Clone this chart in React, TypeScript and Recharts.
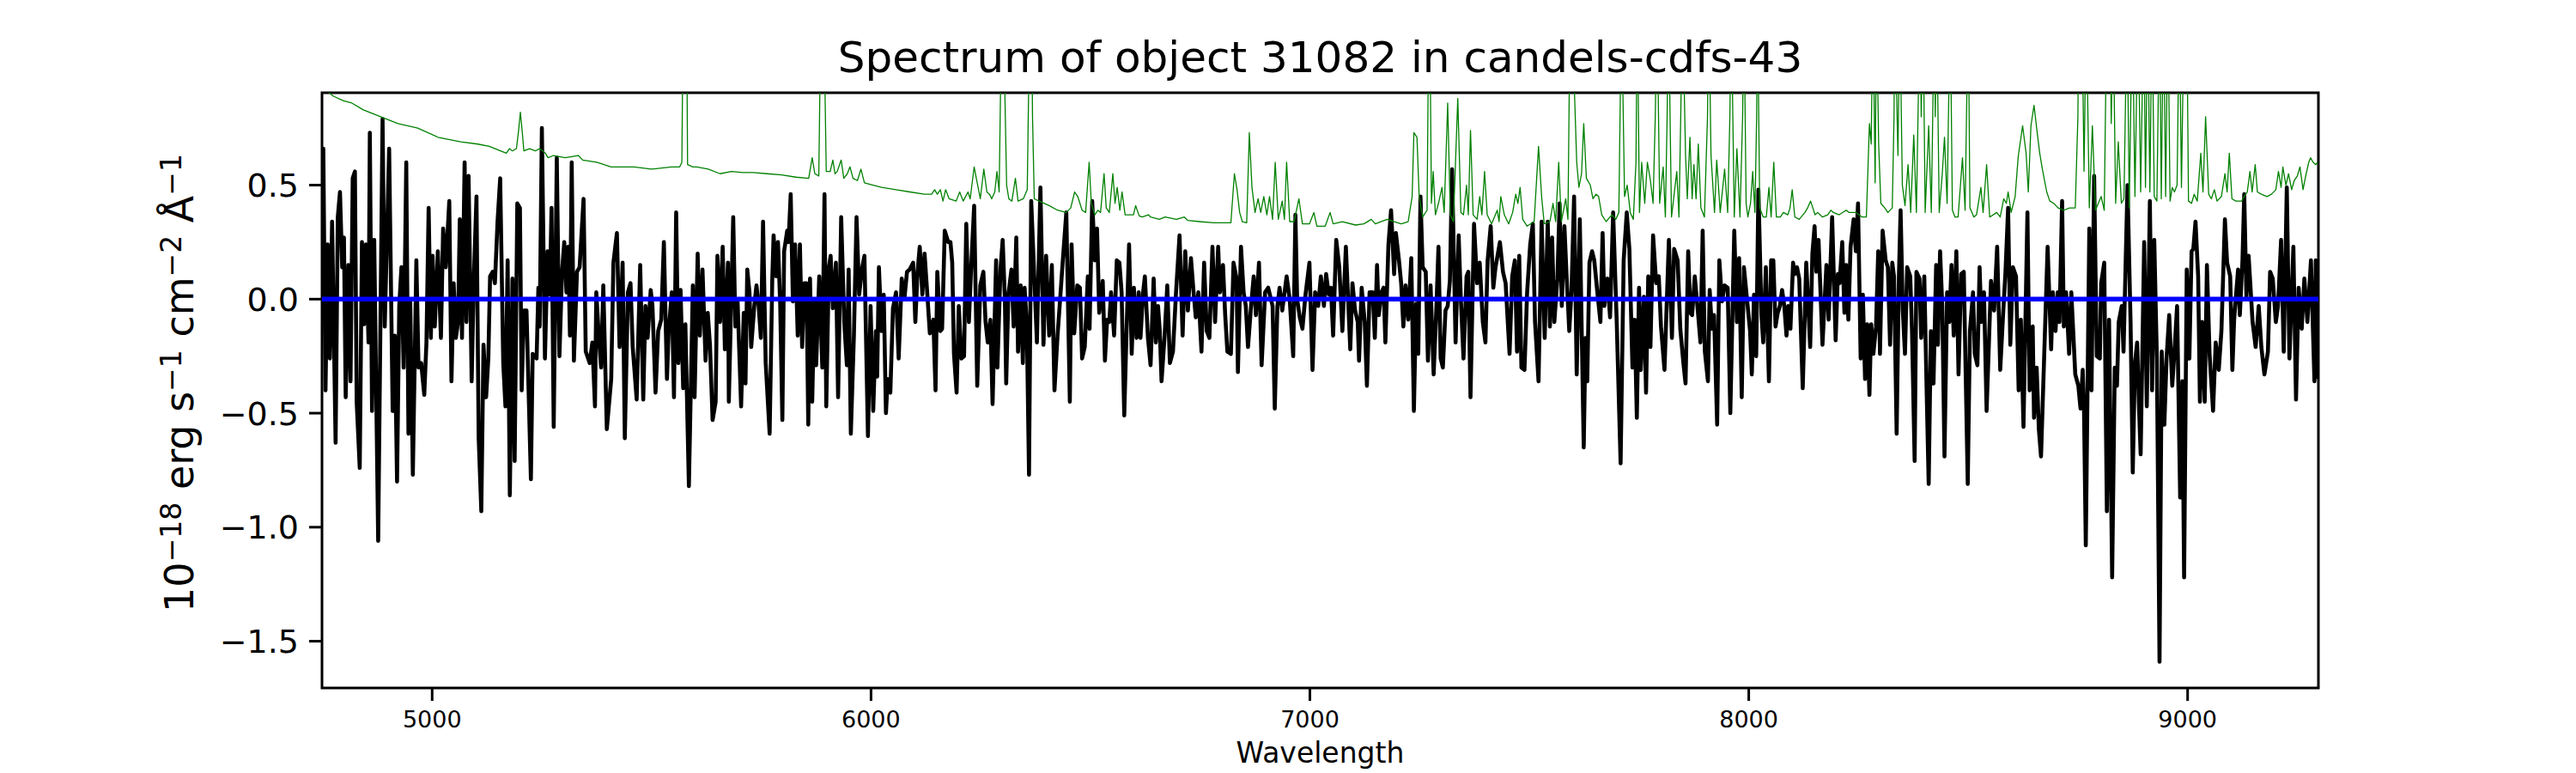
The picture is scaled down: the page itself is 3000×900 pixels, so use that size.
import React from 'react';
import { LineChart, Line, XAxis, YAxis, ReferenceArea } from 'recharts';

const WAVE_MIN = 4749;
const WAVE_MAX = 9298;
const FLUX_MIN = -1.705;
const FLUX_MAX = 0.905;
const X_TICKS = [5000, 6000, 7000, 8000, 9000];
const Y_TICKS = [-1.5, -1.0, -0.5, 0.0, 0.5];
const TITLE = 'Spectrum of object 31082 in candels-cdfs-43';
const X_LABEL = 'Wavelength';

// [wavelength, flux] of the object spectrum (black)
const OBJECT_FLUX: [number, number][] = [
  [4749, 0.24], [4752, 0.66], [4757, -0.40], [4762, 0.24], [4767, -0.26], [4772, 0.34], [4780, -0.63], [4785, 0.36],
  [4790, 0.47], [4795, 0.14], [4799, 0.27], [4803, -0.43], [4809, 0.15], [4814, -0.36], [4819, 0.53], [4824, 0.56],
  [4828, -0.45], [4835, -0.74], [4840, 0.25], [4845, -0.11], [4849, 0.24], [4855, -0.19], [4858, 0.73], [4863, -0.49],
  [4868, 0.26], [4877, -1.06], [4887, 0.79], [4892, -0.12], [4902, 0.66], [4910, -0.49], [4915, -0.16], [4920, -0.80],
  [4925, -0.03], [4930, 0.14], [4935, -0.30], [4941, 0.60], [4946, -0.59], [4950, 0.00], [4956, -0.77], [4964, 0.17],
  [4969, -0.30], [4975, -0.28], [4982, -0.42], [4987, -0.19], [4992, 0.40], [4997, -0.17], [5001, 0.19], [5006, -0.12],
  [5013, 0.21], [5020, -0.17], [5025, 0.31], [5031, 0.14], [5039, 0.43], [5044, -0.36], [5049, 0.07], [5054, -0.17],
  [5059, -0.10], [5063, 0.35], [5068, -0.17], [5074, 0.60], [5078, -0.10], [5083, 0.54], [5090, -0.36], [5095, 0.09],
  [5101, 0.45], [5106, -0.61], [5112, -0.93], [5117, -0.20], [5123, -0.43], [5128, -0.26], [5132, 0.10], [5138, 0.12],
  [5143, 0.07], [5149, 0.34], [5155, 0.53], [5162, -0.28], [5167, -0.47], [5172, 0.17], [5177, -0.86], [5183, 0.09],
  [5188, -0.71], [5194, 0.42], [5200, 0.40], [5204, -0.40], [5209, -0.05], [5215, -0.05], [5225, -0.79], [5229, -0.24],
  [5238, -0.26], [5242, 0.05], [5245, -0.12], [5250, 0.75], [5257, -0.26], [5263, 0.21], [5268, 0.02], [5272, 0.40],
  [5277, -0.56], [5284, 0.62], [5290, -0.25], [5296, 0.12], [5301, 0.25], [5306, 0.03], [5310, 0.23], [5314, -0.16],
  [5318, 0.60], [5323, -0.27], [5330, 0.12], [5336, 0.14], [5345, 0.44], [5350, -0.23], [5359, -0.28], [5365, -0.19],
  [5371, -0.47], [5374, 0.03], [5380, -0.17], [5385, -0.30], [5390, 0.06], [5398, -0.57], [5408, -0.35], [5413, 0.16],
  [5421, 0.29], [5427, -0.21], [5434, 0.16], [5439, -0.61], [5446, 0.03], [5452, 0.07], [5457, -0.21], [5466, -0.44],
  [5474, 0.15], [5481, -0.44], [5486, -0.03], [5491, -0.17], [5498, 0.04], [5502, -0.03], [5509, -0.41], [5515, -0.14],
  [5522, -0.09], [5528, 0.25], [5535, -0.35], [5539, -0.14], [5546, 0.03], [5551, -0.43], [5556, 0.38], [5561, -0.28],
  [5566, 0.04], [5572, -0.39], [5577, -0.11], [5585, -0.82], [5594, 0.06], [5598, -0.43], [5605, 0.20], [5610, -0.16],
  [5616, 0.13], [5623, -0.27], [5628, -0.06], [5633, -0.20], [5639, -0.53], [5646, -0.45], [5650, 0.19], [5656, -0.10],
  [5662, 0.23], [5667, -0.22], [5674, 0.16], [5676, -0.45], [5686, 0.36], [5691, -0.12], [5696, -0.01], [5704, -0.47],
  [5710, -0.06], [5714, -0.37], [5718, 0.13], [5723, 0.03], [5727, -0.21], [5734, -0.03], [5739, 0.06], [5744, -0.03],
  [5749, -0.17], [5754, 0.34], [5760, -0.28], [5769, -0.59], [5775, 0.09], [5778, 0.28], [5784, 0.10], [5788, 0.25],
  [5793, -0.02], [5798, -0.53], [5802, 0.21], [5809, 0.30], [5812, 0.25], [5817, 0.46], [5822, -0.01], [5827, 0.24],
  [5833, -0.16], [5838, 0.24], [5843, -0.21], [5848, 0.07], [5853, 0.07], [5857, -0.55], [5861, 0.09], [5866, -0.45],
  [5871, 0.00], [5875, -0.29], [5882, 0.10], [5889, -0.30], [5894, 0.46], [5898, -0.47], [5904, 0.14], [5908, 0.19],
  [5913, -0.04], [5920, 0.16], [5925, -0.43], [5932, 0.36], [5939, -0.10], [5945, -0.29], [5949, 0.13], [5954, -0.59],
  [5961, -0.16], [5967, 0.36], [5973, 0.02], [5980, 0.14], [5985, 0.19], [5993, -0.60], [5999, -0.03], [6005, -0.49],
  [6011, -0.14], [6014, -0.34], [6018, 0.14], [6024, -0.14], [6029, 0.02], [6034, -0.50], [6038, -0.35], [6044, -0.41],
  [6050, -0.04], [6057, 0.03], [6063, -0.26], [6070, 0.09], [6076, 0.00], [6082, 0.12], [6088, 0.13], [6096, 0.16],
  [6101, -0.10], [6106, 0.12], [6111, 0.23], [6117, 0.02], [6122, 0.20], [6128, 0.03], [6134, -0.15], [6142, -0.09],
  [6147, -0.40], [6151, 0.12], [6158, -0.14], [6162, -0.13], [6168, 0.30], [6176, 0.25], [6181, 0.25], [6185, 0.16],
  [6189, -0.24], [6195, -0.41], [6200, -0.03], [6206, -0.26], [6212, -0.25], [6217, 0.33], [6223, -0.10], [6228, 0.13],
  [6235, 0.41], [6242, -0.38], [6249, 0.06], [6256, 0.12], [6261, -0.10], [6266, -0.19], [6272, -0.09], [6277, -0.46],
  [6285, 0.17], [6288, -0.30], [6295, 0.13], [6300, 0.26], [6305, 0.00], [6308, -0.37], [6313, 0.02], [6320, 0.13],
  [6325, -0.12], [6331, 0.27], [6335, -0.23], [6341, 0.06], [6346, -0.28], [6350, 0.05], [6355, -0.11], [6360, -0.77],
  [6365, 0.43], [6372, 0.10], [6378, -0.19], [6386, 0.49], [6393, -0.20], [6399, 0.19], [6406, -0.16], [6412, 0.15],
  [6418, -0.40], [6425, -0.16], [6432, 0.03], [6437, 0.17], [6445, 0.38], [6453, -0.45], [6457, 0.24], [6463, -0.15],
  [6470, 0.06], [6476, 0.05], [6481, -0.26], [6487, -0.21], [6494, 0.10], [6498, -0.13], [6504, 0.43], [6510, 0.17],
  [6515, 0.31], [6520, -0.06], [6528, 0.08], [6533, -0.27], [6538, -0.09], [6543, -0.10], [6547, 0.03], [6554, -0.16],
  [6560, 0.17], [6566, 0.16], [6571, 0.03], [6577, -0.51], [6583, -0.09], [6588, 0.24], [6594, -0.24], [6599, 0.05],
  [6605, -0.17], [6610, 0.03], [6614, -0.17], [6620, 0.03], [6624, 0.10], [6631, -0.17], [6637, -0.29], [6644, 0.09],
  [6649, -0.19], [6654, -0.03], [6658, -0.14], [6662, -0.36], [6669, -0.16], [6675, 0.06], [6681, -0.28], [6688, -0.23],
  [6695, 0.03], [6703, 0.28], [6710, -0.16], [6716, 0.21], [6722, -0.05], [6729, 0.18], [6735, 0.03], [6740, -0.08],
  [6746, 0.03], [6753, -0.23], [6759, 0.16], [6765, -0.14], [6771, -0.17], [6778, 0.23], [6784, -0.10], [6791, 0.23],
  [6795, 0.03], [6802, 0.15], [6807, -0.07], [6812, -0.23], [6820, -0.24], [6826, 0.16], [6833, 0.09], [6836, -0.32],
  [6843, 0.23], [6849, 0.03], [6854, -0.03], [6859, -0.21], [6866, -0.03], [6872, 0.10], [6877, -0.07], [6884, 0.16],
  [6890, -0.29], [6898, 0.03], [6905, 0.05], [6915, -0.03], [6920, -0.48], [6926, -0.03], [6931, 0.05], [6937, -0.05],
  [6947, 0.10], [6954, 0.00], [6962, -0.25], [6967, 0.37], [6971, 0.00], [6977, -0.08], [6983, -0.13], [6990, 0.02],
  [6999, 0.16], [7006, -0.31], [7012, 0.03], [7019, -0.03], [7025, 0.10], [7032, -0.03], [7037, 0.11], [7043, 0.02],
  [7048, 0.05], [7053, -0.16], [7060, 0.26], [7067, 0.14], [7074, -0.14], [7082, 0.23], [7092, -0.22], [7097, 0.07],
  [7103, -0.05], [7109, -0.10], [7112, -0.27], [7118, 0.05], [7125, -0.10], [7130, -0.38], [7136, 0.03], [7143, 0.03],
  [7148, -0.17], [7153, 0.15], [7157, -0.07], [7163, 0.03], [7168, 0.05], [7172, -0.19], [7179, 0.24], [7185, 0.39],
  [7192, 0.11], [7196, 0.29], [7203, 0.17], [7208, 0.07], [7213, -0.12], [7218, 0.06], [7224, -0.09], [7231, 0.18],
  [7237, -0.49], [7242, -0.02], [7247, -0.24], [7252, 0.45], [7257, 0.14], [7264, 0.12], [7269, -0.27], [7275, 0.06],
  [7282, -0.33], [7288, -0.05], [7293, 0.23], [7298, -0.26], [7303, -0.30], [7309, -0.05], [7314, -0.03], [7319, 0.08],
  [7324, 0.57], [7332, -0.19], [7339, 0.28], [7344, 0.00], [7350, -0.26], [7357, 0.10], [7361, 0.12], [7366, -0.43],
  [7374, 0.33], [7381, 0.07], [7387, 0.16], [7394, -0.10], [7400, -0.19], [7405, 0.17], [7412, 0.32], [7418, 0.05],
  [7423, 0.14], [7433, 0.25], [7440, 0.12], [7446, 0.07], [7455, -0.24], [7461, 0.10], [7467, 0.17], [7472, -0.23],
  [7477, 0.19], [7482, -0.30], [7489, -0.31], [7495, 0.03], [7502, 0.24], [7508, 0.33], [7513, -0.10], [7521, -0.36],
  [7528, 0.34], [7535, -0.17], [7542, 0.34], [7547, -0.12], [7552, 0.27], [7557, -0.10], [7564, 0.09], [7569, 0.42],
  [7574, -0.03], [7580, 0.32], [7585, 0.10], [7591, -0.14], [7596, 0.03], [7602, 0.45], [7608, -0.33], [7615, 0.35],
  [7624, -0.65], [7628, -0.17], [7632, -0.36], [7637, 0.16], [7643, 0.21], [7648, 0.17], [7655, 0.03], [7662, -0.10],
  [7667, 0.29], [7671, -0.03], [7678, 0.09], [7684, -0.08], [7691, 0.38], [7699, -0.09], [7708, -0.72], [7715, 0.17],
  [7722, 0.38], [7728, 0.22], [7735, -0.30], [7740, -0.09], [7745, -0.52], [7750, 0.05], [7754, -0.31], [7761, 0.01],
  [7766, -0.41], [7771, 0.10], [7776, -0.21], [7782, 0.28], [7789, 0.07], [7795, 0.10], [7800, -0.12], [7808, -0.31],
  [7818, 0.26], [7825, -0.17], [7830, 0.22], [7838, 0.17], [7844, -0.13], [7851, -0.28], [7856, -0.37], [7862, 0.21],
  [7867, -0.06], [7871, -0.07], [7877, 0.10], [7883, -0.03], [7890, -0.19], [7895, 0.30], [7900, -0.23], [7907, -0.36],
  [7911, 0.04], [7916, -0.13], [7921, -0.07], [7928, -0.55], [7933, 0.17], [7939, -0.01], [7945, 0.06], [7952, 0.05],
  [7958, -0.50], [7967, 0.30], [7973, -0.10], [7978, 0.18], [7984, -0.43], [7989, 0.14], [8003, -0.14], [8007, -0.33],
  [8012, 0.02], [8017, -0.25], [8022, 0.48], [8029, -0.07], [8033, -0.19], [8039, 0.14], [8046, -0.36], [8051, 0.17],
  [8056, 0.17], [8061, -0.12], [8066, -0.06], [8071, -0.03], [8076, 0.04], [8081, -0.03], [8086, -0.16], [8090, -0.03],
  [8095, -0.13], [8101, 0.16], [8105, 0.11], [8110, 0.14], [8115, 0.09], [8123, -0.39], [8131, 0.16], [8140, -0.21],
  [8145, 0.20], [8150, 0.32], [8154, 0.12], [8159, 0.26], [8168, -0.20], [8177, 0.15], [8182, -0.09], [8190, 0.36],
  [8198, -0.18], [8203, 0.11], [8207, 0.07], [8213, 0.25], [8218, -0.06], [8222, 0.15], [8227, -0.09], [8232, 0.23],
  [8239, 0.35], [8244, 0.21], [8249, 0.42], [8255, -0.26], [8260, 0.02], [8265, -0.35], [8270, -0.11], [8275, -0.42],
  [8279, -0.11], [8284, -0.24], [8290, -0.12], [8295, 0.21], [8299, -0.24], [8305, 0.30], [8312, 0.17], [8317, 0.14],
  [8322, -0.20], [8327, 0.16], [8331, 0.10], [8337, -0.59], [8342, 0.09], [8346, 0.39], [8351, -0.05], [8356, -0.24],
  [8361, 0.14], [8368, 0.10], [8372, -0.14], [8378, -0.71], [8382, 0.12], [8389, 0.09], [8393, -0.17], [8400, 0.10],
  [8405, -0.37], [8410, -0.81], [8415, -0.14], [8421, -0.37], [8427, 0.15], [8431, -0.20], [8436, 0.21], [8441, -0.03],
  [8446, -0.69], [8452, 0.03], [8457, -0.10], [8462, 0.15], [8467, -0.16], [8473, 0.21], [8478, -0.33], [8484, 0.11],
  [8490, 0.12], [8499, -0.81], [8504, -0.14], [8511, 0.03], [8515, -0.24], [8521, -0.29], [8526, 0.14], [8530, -0.10],
  [8536, 0.03], [8542, -0.49], [8552, 0.08], [8559, -0.05], [8566, 0.23], [8573, -0.31], [8580, -0.05], [8585, 0.12],
  [8591, 0.40], [8596, -0.20], [8602, 0.14], [8609, 0.10], [8615, -0.40], [8620, -0.09], [8626, -0.56], [8635, 0.38],
  [8640, -0.40], [8647, -0.12], [8650, -0.52], [8656, -0.30], [8661, -0.57], [8666, -0.69], [8673, -0.26], [8681, 0.23],
  [8689, -0.22], [8693, 0.03], [8699, -0.14], [8704, 0.03], [8708, -0.10], [8714, 0.43], [8718, -0.12], [8723, 0.03],
  [8730, -0.24], [8735, 0.03], [8744, -0.33], [8751, -0.38], [8756, -0.48], [8761, -0.31], [8764, -0.50], [8768, -1.08],
  [8776, 0.31], [8781, -0.40], [8787, 0.54], [8793, -0.25], [8800, -0.26], [8803, 0.07], [8810, 0.16], [8816, -0.93],
  [8821, -0.09], [8828, -1.22], [8834, -0.30], [8839, -0.38], [8843, -0.10], [8850, -0.03], [8854, -0.23], [8863, 0.50],
  [8870, -0.10], [8875, -0.76], [8880, -0.28], [8885, -0.19], [8889, -0.46], [8893, -0.68], [8901, 0.25], [8907, -0.47],
  [8914, 0.43], [8919, -0.40], [8924, 0.26], [8930, -0.26], [8936, -1.59], [8941, -0.23], [8947, -0.55], [8952, -0.26],
  [8958, -0.07], [8965, -0.38], [8970, -0.23], [8976, -0.03], [8983, -0.87], [8988, -0.36], [8992, -1.22], [8998, 0.13],
  [9004, -0.26], [9009, 0.21], [9013, 0.22], [9018, 0.34], [9024, 0.10], [9028, -0.45], [9033, -0.10], [9039, -0.45],
  [9044, 0.15], [9050, -0.24], [9058, -0.49], [9064, -0.19], [9071, -0.31], [9077, -0.14], [9085, 0.35], [9090, 0.16],
  [9097, 0.10], [9102, -0.31], [9106, -0.09], [9115, 0.13], [9119, -0.07], [9125, 0.17], [9129, 0.46], [9134, 0.01],
  [9139, 0.19], [9148, -0.10], [9155, -0.21], [9162, -0.03], [9168, -0.21], [9175, -0.33], [9183, -0.23], [9188, 0.12],
  [9194, 0.09], [9201, -0.10], [9206, -0.03], [9213, 0.26], [9219, -0.23], [9226, 0.49], [9232, -0.26], [9241, 0.23],
  [9247, -0.44], [9253, 0.05], [9260, -0.13], [9266, 0.09], [9273, -0.10], [9281, 0.17], [9289, -0.36], [9292, 0.17],
  [9296, -0.35],
];

// [wavelength, error] of the noise / sky spectrum (green)
const SKY_ERROR: [number, number][] = [
  [4749, 0.93], [4775, 0.89], [4798, 0.87], [4817, 0.86], [4843, 0.83], [4869, 0.81], [4896, 0.79], [4922, 0.77],
  [4967, 0.75], [5013, 0.71], [5065, 0.69], [5104, 0.68], [5130, 0.67], [5169, 0.64], [5176, 0.66], [5183, 0.65],
  [5192, 0.66], [5197, 0.74], [5201, 0.82], [5205, 0.74], [5209, 0.65], [5222, 0.66], [5235, 0.65], [5245, 0.66],
  [5258, 0.64], [5264, 0.62], [5277, 0.63], [5303, 0.62], [5333, 0.63], [5343, 0.61], [5375, 0.60], [5408, 0.58],
  [5460, 0.58], [5499, 0.57], [5545, 0.58], [5564, 0.58], [5569, 0.60], [5573, 1.5], [5576, 1.5], [5579, 1.5],
  [5582, 0.59], [5594, 0.58], [5603, 0.58], [5629, 0.57], [5656, 0.55], [5682, 0.56], [5708, 0.555], [5731, 0.555],
  [5763, 0.55], [5796, 0.545], [5829, 0.535], [5858, 0.53], [5866, 0.62], [5872, 0.55], [5881, 0.54], [5886, 1.3],
  [5892, 1.3], [5898, 0.56], [5907, 0.56], [5913, 0.61], [5918, 0.55], [5923, 0.56], [5932, 0.61], [5938, 0.53],
  [5946, 0.55], [5952, 0.58], [5959, 0.53], [5969, 0.52], [5977, 0.57], [5985, 0.51], [6005, 0.50], [6024, 0.49],
  [6057, 0.48], [6089, 0.47], [6122, 0.46], [6138, 0.46], [6145, 0.48], [6151, 0.46], [6158, 0.48], [6164, 0.43],
  [6170, 0.48], [6178, 0.44], [6194, 0.43], [6202, 0.47], [6210, 0.43], [6221, 0.47], [6226, 0.44], [6235, 0.58],
  [6243, 0.50], [6249, 0.44], [6257, 0.57], [6264, 0.47], [6270, 0.46], [6275, 0.44], [6282, 0.47], [6287, 0.56],
  [6292, 0.47], [6295, 0.90], [6298, 1.6], [6301, 1.6], [6305, 0.90], [6309, 0.50], [6314, 0.44], [6321, 0.43],
  [6329, 0.53], [6335, 0.43], [6347, 0.44], [6356, 0.48], [6359, 0.90], [6361, 1.5], [6365, 1.5], [6368, 0.80],
  [6372, 0.44], [6383, 0.43], [6406, 0.41], [6425, 0.39], [6445, 0.38], [6455, 0.40], [6464, 0.47], [6471, 0.45],
  [6481, 0.39], [6489, 0.38], [6497, 0.60], [6502, 0.42], [6510, 0.37], [6517, 0.39], [6523, 0.38], [6531, 0.55],
  [6536, 0.40], [6543, 0.38], [6551, 0.55], [6556, 0.42], [6561, 0.49], [6567, 0.39], [6572, 0.47], [6579, 0.37],
  [6598, 0.37], [6603, 0.41], [6611, 0.365], [6618, 0.36], [6632, 0.37], [6637, 0.36], [6657, 0.35], [6670, 0.36],
  [6696, 0.35], [6714, 0.36], [6722, 0.345], [6748, 0.34], [6781, 0.335], [6820, 0.335], [6828, 0.55], [6834, 0.48],
  [6840, 0.38], [6846, 0.34], [6856, 0.335], [6862, 0.73], [6868, 0.49], [6875, 0.38], [6882, 0.44], [6888, 0.38],
  [6895, 0.45], [6902, 0.37], [6908, 0.45], [6915, 0.35], [6921, 0.60], [6928, 0.35], [6937, 0.43], [6942, 0.35],
  [6947, 0.60], [6954, 0.34], [6964, 0.34], [6975, 0.44], [6983, 0.33], [6999, 0.33], [7009, 0.38], [7016, 0.32],
  [7035, 0.32], [7046, 0.38], [7053, 0.33], [7074, 0.34], [7104, 0.325], [7123, 0.33], [7140, 0.35], [7149, 0.33],
  [7176, 0.35], [7192, 0.34], [7208, 0.33], [7224, 0.34], [7233, 0.45], [7237, 0.73], [7244, 0.71], [7249, 0.45],
  [7257, 0.36], [7267, 0.39], [7272, 1.5], [7277, 0.42], [7281, 0.56], [7286, 0.37], [7293, 0.42], [7301, 0.49],
  [7306, 0.38], [7314, 0.86], [7320, 0.37], [7327, 0.34], [7337, 0.88], [7344, 0.38], [7350, 0.37], [7357, 0.50],
  [7361, 0.37], [7366, 0.74], [7372, 0.37], [7381, 0.35], [7387, 0.45], [7392, 0.37], [7398, 0.56], [7404, 0.37],
  [7414, 0.33], [7427, 0.39], [7431, 0.34], [7435, 0.45], [7443, 0.37], [7453, 0.33], [7462, 0.38], [7469, 0.46],
  [7474, 0.42], [7479, 0.49], [7485, 0.35], [7495, 0.32], [7511, 0.34], [7521, 0.67], [7528, 0.45], [7534, 0.33],
  [7547, 0.34], [7554, 0.42], [7560, 0.34], [7567, 0.60], [7573, 0.34], [7583, 0.44], [7588, 0.35], [7593, 1.3],
  [7600, 1.3], [7603, 0.90], [7608, 0.60], [7613, 0.49], [7619, 0.55], [7624, 0.77], [7630, 0.53], [7639, 0.50],
  [7645, 0.44], [7652, 0.46], [7658, 0.45], [7665, 0.37], [7675, 0.34], [7688, 0.37], [7697, 0.35], [7704, 0.38],
  [7710, 1.3], [7717, 0.45], [7723, 0.50], [7730, 0.38], [7737, 0.35], [7743, 0.60], [7746, 1.3], [7751, 0.38],
  [7756, 0.60], [7763, 0.42], [7769, 0.60], [7776, 0.52], [7782, 0.42], [7787, 0.80], [7791, 1.3], [7797, 0.42],
  [7805, 0.58], [7810, 0.36], [7814, 0.80], [7817, 1.3], [7824, 0.36], [7836, 0.56], [7841, 0.36], [7845, 0.80],
  [7849, 1.3], [7856, 0.63], [7860, 0.44], [7866, 0.71], [7871, 0.44], [7875, 0.59], [7880, 0.44], [7885, 0.68],
  [7891, 0.40], [7899, 0.36], [7906, 0.80], [7909, 1.3], [7914, 0.63], [7922, 0.38], [7927, 0.61], [7935, 0.38],
  [7945, 0.57], [7952, 0.38], [7957, 0.80], [7960, 1.3], [7967, 0.36], [7973, 0.66], [7980, 0.36], [7986, 0.80],
  [7989, 1.3], [7994, 0.42], [7998, 0.36], [8004, 0.42], [8009, 0.56], [8014, 0.38], [8018, 0.80], [8020, 1.3],
  [8025, 0.40], [8033, 0.36], [8040, 0.36], [8046, 0.49], [8051, 0.36], [8057, 0.60], [8063, 0.36], [8072, 0.36],
  [8079, 0.38], [8089, 0.37], [8094, 0.40], [8099, 0.48], [8105, 0.36], [8115, 0.35], [8128, 0.38], [8134, 0.40],
  [8141, 0.43], [8151, 0.37], [8157, 0.38], [8168, 0.36], [8180, 0.37], [8187, 0.39], [8193, 0.38], [8206, 0.37],
  [8222, 0.39], [8229, 0.38], [8245, 0.38], [8258, 0.36], [8268, 0.36], [8275, 0.77], [8279, 0.68], [8283, 1.3],
  [8288, 0.51], [8291, 1.3], [8296, 0.68], [8301, 0.42], [8310, 0.40], [8317, 0.38], [8327, 0.40], [8331, 0.80],
  [8333, 1.3], [8338, 0.80], [8340, 0.63], [8344, 1.3], [8350, 0.50], [8356, 0.41], [8363, 0.59], [8369, 0.38],
  [8376, 0.72], [8382, 0.38], [8390, 1.3], [8393, 0.80], [8397, 1.3], [8402, 0.38], [8410, 0.76], [8416, 0.38],
  [8423, 1.3], [8425, 0.80], [8428, 1.3], [8434, 0.38], [8441, 0.55], [8446, 0.71], [8452, 0.42], [8459, 1.3],
  [8464, 0.39], [8470, 0.36], [8477, 0.36], [8487, 0.62], [8493, 0.39], [8500, 1.3], [8504, 0.40], [8513, 0.36],
  [8519, 0.37], [8529, 0.49], [8534, 0.38], [8542, 0.59], [8549, 0.36], [8565, 0.38], [8573, 0.36], [8581, 0.44],
  [8587, 0.42], [8591, 0.47], [8598, 0.38], [8607, 0.45], [8614, 0.625], [8624, 0.76], [8632, 0.64], [8637, 0.47],
  [8643, 0.76], [8650, 0.85], [8656, 0.75], [8663, 0.64], [8669, 0.57], [8679, 0.47], [8686, 0.43], [8695, 0.42],
  [8705, 0.40], [8718, 0.39], [8731, 0.40], [8744, 0.40], [8750, 0.80], [8752, 1.3], [8759, 1.3], [8764, 0.56],
  [8769, 1.3], [8776, 0.40], [8783, 0.76], [8790, 0.39], [8803, 0.45], [8810, 0.39], [8816, 1.3], [8823, 1.3],
  [8826, 0.77], [8830, 1.3], [8836, 0.42], [8842, 0.69], [8849, 0.42], [8855, 0.44], [8862, 1.3], [8867, 0.40],
  [8874, 1.3], [8880, 0.45], [8887, 1.3], [8893, 0.47], [8900, 1.3], [8904, 0.49], [8909, 1.3], [8914, 0.47],
  [8919, 1.3], [8924, 0.45], [8930, 0.43], [8936, 1.3], [8940, 0.44], [8945, 1.3], [8950, 0.45], [8955, 1.3],
  [8960, 0.43], [8965, 0.49], [8970, 0.47], [8976, 0.50], [8981, 1.3], [8986, 0.49], [8992, 1.3], [8998, 1.3],
  [9002, 0.43], [9009, 0.42], [9015, 0.46], [9022, 0.43], [9030, 0.64], [9035, 0.47], [9041, 0.80], [9048, 0.46],
  [9054, 0.44], [9061, 0.48], [9067, 0.43], [9077, 0.45], [9085, 0.55], [9090, 0.47], [9095, 0.64], [9101, 0.44],
  [9110, 0.43], [9123, 0.43], [9129, 0.45], [9136, 0.47], [9142, 0.56], [9147, 0.47], [9154, 0.59], [9159, 0.47],
  [9168, 0.46], [9181, 0.45], [9191, 0.46], [9201, 0.48], [9207, 0.56], [9213, 0.49], [9217, 0.58], [9224, 0.50],
  [9230, 0.55], [9237, 0.48], [9243, 0.52], [9250, 0.54], [9256, 0.58], [9263, 0.48], [9269, 0.54], [9276, 0.60],
  [9280, 0.62], [9286, 0.60], [9292, 0.59], [9296, 0.60],
];

// zero level (blue)
const ZERO_LEVEL: [number, number][] = [[4749, 0], [9298, 0]];

const toRows = (pairs: [number, number][]) => pairs.map(([w, f]) => ({ w, f }));

const FONT = 'DejaVu Sans';
const fmtY = (v: number) => v.toFixed(1).replace('-', '\u2212');

export default function App() {
  const objRows = toRows(OBJECT_FLUX);
  const skyRows = toRows(SKY_ERROR);
  const zeroRows = toRows(ZERO_LEVEL);
  return (
    <div style={{ position: 'absolute', left: 0, top: 0, width: 3000, height: 900, background: '#fff' }}>
      <LineChart width={3000} height={900} margin={{ top: 108, right: 300, bottom: 39, left: 255 }}>
        <XAxis
          dataKey="w"
          type="number"
          domain={[WAVE_MIN, WAVE_MAX]}
          allowDataOverflow
          ticks={X_TICKS}
          interval={0}
          height={60}
          axisLine={false}
          tickSize={15}
          tickMargin={12}
          tickLine={{ stroke: '#000', strokeWidth: 3 }}
          tick={{ fill: '#000', fontSize: 27, fontFamily: FONT }}
        />
        <YAxis
          type="number"
          domain={[FLUX_MIN, FLUX_MAX]}
          allowDataOverflow
          ticks={Y_TICKS}
          interval={0}
          width={120}
          axisLine={false}
          tickSize={15}
          tickMargin={12}
          tickFormatter={fmtY}
          tickLine={{ stroke: '#000', strokeWidth: 3 }}
          tick={{ fill: '#000', fontSize: 38, fontFamily: FONT }}
        />
        <Line
          data={objRows}
          dataKey="f"
          type="linear"
          stroke="#000000"
          strokeWidth={4.6}
          strokeLinejoin="round"
          dot={false}
          activeDot={false}
          isAnimationActive={false}
        />
        <Line
          data={zeroRows}
          dataKey="f"
          type="linear"
          stroke="#0000ff"
          strokeWidth={5.5}
          dot={false}
          activeDot={false}
          isAnimationActive={false}
        />
        <Line
          data={skyRows}
          dataKey="f"
          type="linear"
          stroke="#008000"
          strokeWidth={1.3}
          strokeLinejoin="round"
          dot={false}
          activeDot={false}
          isAnimationActive={false}
        />
        <ReferenceArea
          x1={WAVE_MIN}
          x2={WAVE_MAX}
          y1={FLUX_MIN}
          y2={FLUX_MAX}
          fill="none"
          fillOpacity={0}
          stroke="#000"
          strokeWidth={3}
        />
      </LineChart>
      <svg
        width={3000}
        height={900}
        style={{ position: 'absolute', left: 0, top: 0, pointerEvents: 'none' }}
      >
        <text x={1537.5} y={84} textAnchor="middle" fontSize={50} fontFamily={FONT} fill="#000">
          {TITLE}
        </text>
        <text x={1537.5} y={888} textAnchor="middle" fontSize={33} fontFamily={FONT} fill="#000">
          {X_LABEL}
        </text>
        <text
          x={-446}
          y={225}
          transform="rotate(-90)"
          textAnchor="middle"
          fontSize={46}
          fontFamily={FONT}
          fill="#000"
        >
          <tspan>10</tspan>
          <tspan dy={-14} fontSize={33}>{'\u221218'}</tspan>
          <tspan dy={14}>{' erg s'}</tspan>
          <tspan dy={-14} fontSize={33}>{'\u22121'}</tspan>
          <tspan dy={14}>{' cm'}</tspan>
          <tspan dy={-14} fontSize={33}>{'\u22122'}</tspan>
          <tspan dy={14}>{' \u00c5'}</tspan>
          <tspan dy={-14} fontSize={33}>{'\u22121'}</tspan>
        </text>
      </svg>
    </div>
  );
}
